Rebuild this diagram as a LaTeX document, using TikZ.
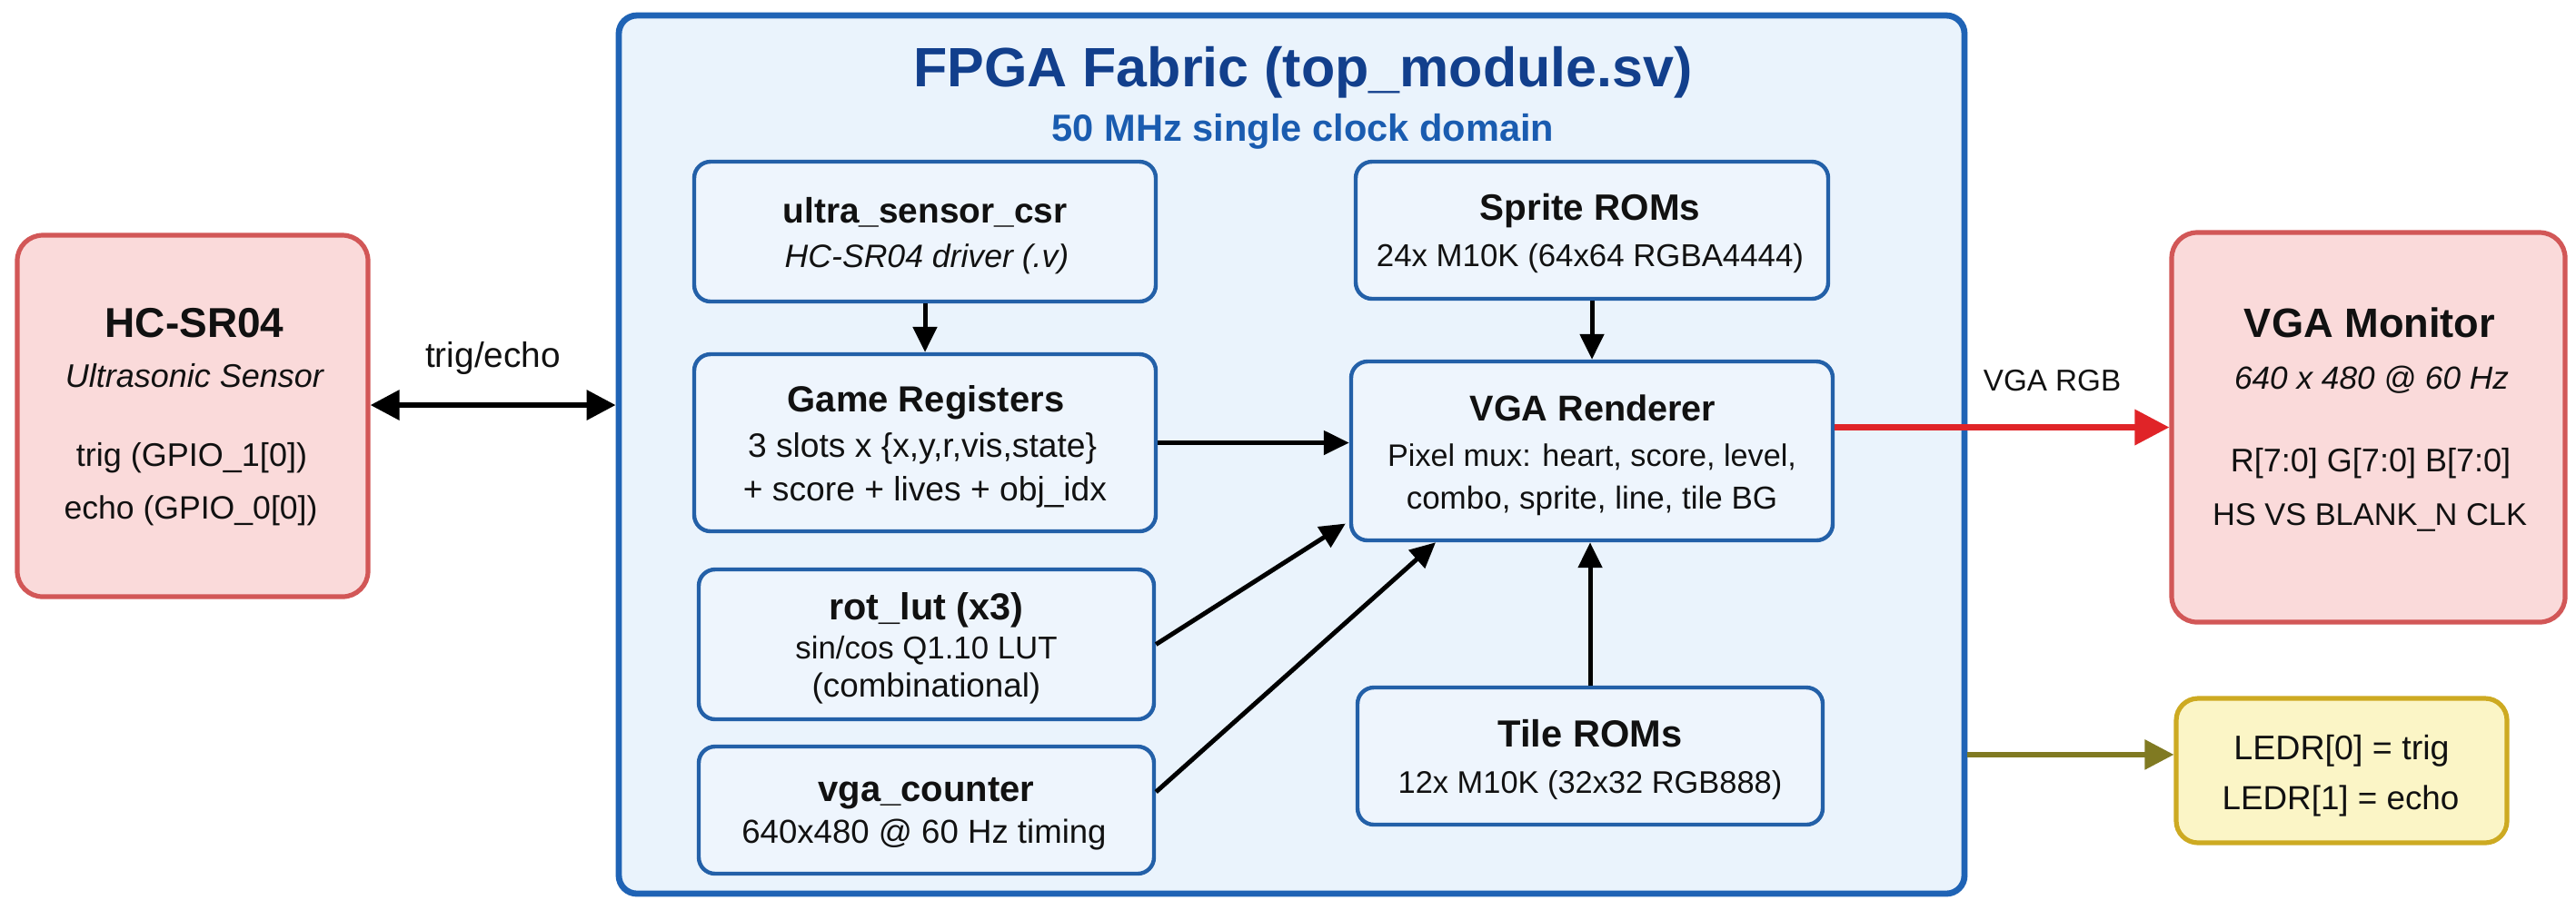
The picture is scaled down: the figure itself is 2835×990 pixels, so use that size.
\documentclass[tikz,border=0pt]{standalone}
\usepackage{fontspec}
\setmainfont{Liberation Sans}
\usetikzlibrary{arrows.meta}
\definecolor{fpgafill}{HTML}{EAF3FC}
\definecolor{fpgaline}{HTML}{1F63B5}
\definecolor{innerfill}{HTML}{EEF5FD}
\definecolor{innerline}{HTML}{2360A8}
\definecolor{titlecol}{HTML}{123F8C}
\definecolor{subcol}{HTML}{1A5CB0}
\definecolor{pinkfill}{HTML}{FADADA}
\definecolor{pinkline}{HTML}{D25757}
\definecolor{ledfill}{HTML}{FBF5C6}
\definecolor{ledline}{HTML}{CDAA22}
\definecolor{redarrow}{HTML}{E02428}
\definecolor{olivearrow}{HTML}{807A22}
\definecolor{txtcol}{HTML}{111111}
\newcommand{\fs}[1]{\fontsize{#1}{1.2\dimexpr #1\relax}\selectfont}
\tikzset{
  fpgabox/.style={draw=fpgaline, fill=fpgafill, line width=1.7pt, rounded corners=5pt, inner sep=0pt},
  innerbox/.style={draw=innerline, fill=innerfill, line width=1.1pt, rounded corners=4.5pt, inner sep=0pt},
  extbox/.style={draw=pinkline, fill=pinkfill, line width=1.3pt, rounded corners=7pt, inner sep=0pt},
  ledbox/.style={draw=ledline, fill=ledfill, line width=1.3pt, rounded corners=6pt, inner sep=0pt},
  txt/.style={inner sep=0pt, anchor=base, text=txtcol},
  bfx/.style={txt, font=\fs{#1}\bfseries},
  rgx/.style={txt, font=\fs{#1}},
  itx/.style={txt, font=\fs{#1}\itshape},
  conn/.style={draw=black, line width=1.25pt, -{Triangle[length=7pt,width=6.5pt]}},
}
\begin{document}
\begin{tikzpicture}[x=0.25pt, y=-0.25pt]
\useasboundingbox[fill=white] (0,0) rectangle (2835,990);

% FPGA fabric
\node[fpgabox, minimum width=370.25pt, minimum height=241.75pt] (fpga) at (1421.5,500.5) {};
\node[txt, text=titlecol, font=\fs{15.25pt}\bfseries] (title) at (1434,95) {FPGA Fabric (top\_module.sv)};
\node[txt, text=subcol, font=\fs{10.4pt}\bfseries] (subtitle) at (1434,155) {50 MHz single clock domain};

% external boxes
\node[extbox, minimum width=96.5pt, minimum height=99.5pt] (hc) at (212,458) {};
\node[bfx=11.5pt] (hct) at (214,371) {HC-SR04};
\node[itx=9pt] (hcs) at (214,426) {Ultrasonic Sensor};
\node[rgx=9pt] (hc1) at (211,513) {trig (GPIO\_1[0])};
\node[rgx=8.9pt] (hc2) at (210,571) {echo (GPIO\_0[0])};

\node[extbox, minimum width=108.25pt, minimum height=107.25pt] (mon) at (2606.5,470.5) {};
\node[bfx=11.3pt] (mont) at (2608,371) {VGA Monitor};
\node[itx=8.8pt] (mons) at (2610,428) {640 x 480 @ 60 Hz};
\node[rgx=9pt] (mon1) at (2609,519) {R[7:0] G[7:0] B[7:0]};
\node[rgx=8.6pt] (mon2) at (2608,578) {HS VS BLANK\_N CLK};

\node[ledbox, minimum width=91pt, minimum height=39.75pt] (led) at (2577,848.5) {};
\node[rgx=9.4pt] (led1) at (2577,836) {LEDR[0] = trig};
\node[rgx=9.2pt] (led2) at (2576,891) {LEDR[1] = echo};

% inner boxes
\node[innerbox, minimum width=127pt, minimum height=38.5pt] (ultra) at (1018,255) {};
\node[bfx=9.7pt] (ultrat) at (1018,245) {ultra\_sensor\_csr};
\node[itx=8.9pt] (ultras) at (1020,294) {HC-SR04 driver (.v)};

\node[innerbox, minimum width=127pt, minimum height=48.75pt] (game) at (1018,487.5) {};
\node[bfx=10pt] (gamet) at (1019,453) {Game Registers};
\node[rgx=9.3pt] (game1) at (1015,503) {3 slots x \{x,y,r,vis,state\}};
\node[rgx=9.3pt] (game2) at (1018,551) {+ score + lives + obj\_idx};

\node[innerbox, minimum width=125.25pt, minimum height=41.25pt] (rot) at (1019.5,709.5) {};
\node[bfx=10.35pt] (rott) at (1019.5,682) {rot\_lut (x3)};
\node[rgx=8.7pt] (rot1) at (1019.5,725) {sin/cos Q1.10 LUT};
\node[rgx=9.2pt] (rot2) at (1019.5,767) {(combinational)};

\node[innerbox, minimum width=125.25pt, minimum height=35pt] (vgac) at (1019.5,892) {};
\node[bfx=10pt] (vgact) at (1019.5,882) {vga\_counter};
\node[rgx=9.15pt] (vgac1) at (1017,928) {640x480 @ 60 Hz timing};

\node[innerbox, minimum width=130pt, minimum height=37.75pt] (sprite) at (1752,253.5) {};
\node[bfx=10.1pt] (spritet) at (1750,242) {Sprite ROMs};
\node[rgx=8.7pt] (sprite1) at (1750,293) {24x M10K (64x64 RGBA4444)};

\node[innerbox, minimum width=132.5pt, minimum height=49.25pt] (rend) at (1752,496.5) {};
\node[bfx=9.9pt] (rendt) at (1753,463) {VGA Renderer};
\node[rgx=8.55pt] (rend1) at (1752,513) {Pixel mux: heart, score, level,};
\node[rgx=8.75pt] (rend2) at (1752,560) {combo, sprite, line, tile BG};

\node[innerbox, minimum width=128pt, minimum height=37.75pt] (tile) at (1750,832.5) {};
\node[bfx=10.4pt] (tilet) at (1750,822) {Tile ROMs};
\node[rgx=8.6pt] (tile1) at (1750,873) {12x M10K (32x32 RGB888)};

% connectors
\draw[draw=black, line width=1.6pt, {Triangle[length=8pt,width=8pt]}-{Triangle[length=8pt,width=8pt]}]
  ([yshift=3pt]hc.east) -- ([yshift=3pt]hc.east -| fpga.west)
  node[midway, above=7.5pt, font=\fs{9.7pt}, text=txtcol, inner sep=0pt] (trigecho) {trig/echo};

\draw[conn] (ultra.south) -- (game.north);
\draw[conn] (game.east) -- (game.east -| rend.west);
\draw[conn] (rot.east) -- ([xshift=-1pt,yshift=-20pt]rend.west);
\draw[conn] ([yshift=5pt]vgac.east) -- ([xshift=-43pt]rend.south);
\draw[conn] (sprite.south) -- (sprite.south |- rend.north);
\draw[conn] (tile.north) -- (tile.north |- rend.south);

\draw[draw=redarrow, line width=1.7pt, -{Triangle[length=9.5pt,width=9.5pt]}]
  (mon.west -| rend.east) -- (mon.west)
  node[pos=0.65, above=9pt, font=\fs{8.3pt}, text=txtcol, inner sep=0pt] (vgargb) {VGA RGB};

\draw[draw=olivearrow, line width=1.4pt, -{Triangle[length=8pt,width=8pt]}]
  ([yshift=4.4pt]led.west -| fpga.east) -- ([yshift=4.4pt]led.west);

\end{tikzpicture}
\end{document}
